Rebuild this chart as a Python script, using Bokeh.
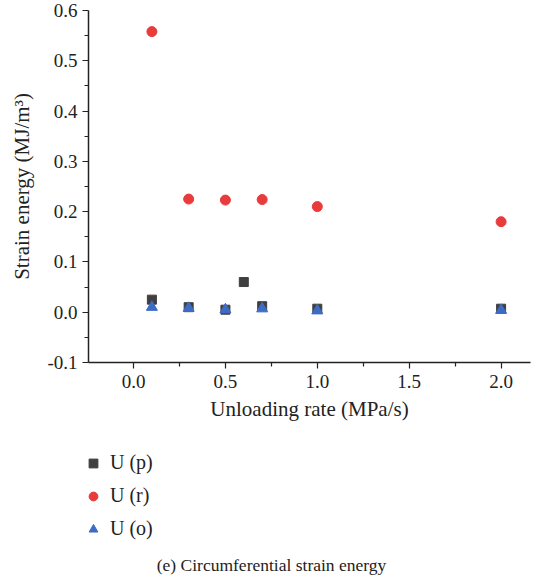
from bokeh.plotting import figure
from bokeh.layouts import column
from bokeh.models import Legend, LegendItem, Label, PrintfTickFormatter, FixedTicker
from bokeh.embed import file_html
from bokeh.resources import INLINE

# Data
rate_p = [0.1, 0.3, 0.5, 0.6, 0.7, 1.0, 2.0]
U_p = [0.025, 0.010, 0.005, 0.060, 0.012, 0.007, 0.007]
rate_r = [0.1, 0.3, 0.5, 0.7, 1.0, 2.0]
U_r = [0.558, 0.225, 0.223, 0.224, 0.210, 0.180]
rate_o = [0.1, 0.3, 0.5, 0.7, 1.0, 2.0]
U_o = [0.010, 0.008, 0.005, 0.007, 0.003, 0.004]
x_ticks = [0.0, 0.5, 1.0, 1.5, 2.0]
y_ticks = [-0.1, 0.0, 0.1, 0.2, 0.3, 0.4, 0.5, 0.6]
series_names = ["U (p)", "U (r)", "U (o)"]
caption_text = "(e) Circumferential strain energy"

FONT = "Liberation Serif"
TXT = "#222222"
C_P, C_R, C_O = "#3f3f3f", "#e83b3b", "#3d6cc4"

p = figure(width=538, height=430, output_backend="svg", toolbar_location=None,
           x_range=(-0.245, 2.16), y_range=(-0.1, 0.6),
           min_border_left=88, min_border_right=8, min_border_top=10, min_border_bottom=68)
p.outline_line_color = None
p.grid.visible = False

p.scatter(rate_p, U_p, marker="square", size=9, color=C_P)
p.scatter(rate_r, U_r, marker="circle", size=10, color=C_R)
p.scatter(rate_o, U_o, marker="triangle", size=11, color=C_O)

for ax in (p.xaxis[0], p.yaxis[0]):
    ax.axis_line_color = TXT
    ax.axis_line_width = 1.5
    ax.major_tick_line_color = TXT
    ax.minor_tick_line_color = TXT
    ax.major_tick_line_width = 1.2
    ax.minor_tick_line_width = 1.2
    ax.major_tick_out = 6
    ax.major_tick_in = 0
    ax.minor_tick_out = 4
    ax.minor_tick_in = 0
    ax.major_label_text_font = FONT
    ax.major_label_text_font_size = "19px"
    ax.major_label_text_color = TXT
    ax.axis_label_text_font = FONT
    ax.axis_label_text_font_size = "21px"
    ax.axis_label_text_font_style = "normal"
    ax.axis_label_text_color = TXT

p.xaxis.ticker = FixedTicker(ticks=x_ticks, minor_ticks=[-0.25, 0.25, 0.75, 1.25, 1.75])
p.yaxis.ticker = FixedTicker(ticks=y_ticks, minor_ticks=[-0.05, 0.05, 0.15, 0.25, 0.35, 0.45, 0.55])
p.xaxis.formatter = PrintfTickFormatter(format="%.1f")
p.yaxis.formatter = PrintfTickFormatter(format="%.1f")
p.xaxis.axis_label = "Unloading rate (MPa/s)"
p.yaxis.axis_label = "Strain energy (MJ/m³)"
p.xaxis.major_label_standoff = 6
p.yaxis.major_label_standoff = 5
p.xaxis.axis_label_standoff = 6
p.yaxis.axis_label_standoff = 10

# Legend + caption panel (its frame is aligned with the main frame by the column layout)
p2 = figure(width=538, height=153, output_backend="svg", toolbar_location=None,
            x_range=(-10, -9), y_range=(-10, -9),
            min_border_left=0, min_border_right=0, min_border_top=0, min_border_bottom=0)
p2.axis.visible = False
p2.grid.visible = False
p2.outline_line_color = None
lp = p2.scatter(rate_p, U_p, marker="square", size=9, color=C_P)
lr = p2.scatter(rate_r, U_r, marker="circle", size=10, color=C_R)
lo = p2.scatter(rate_o, U_o, marker="triangle", size=11, color=C_O)

legend = Legend(items=[LegendItem(label=series_names[0], renderers=[lp]),
                       LegendItem(label=series_names[1], renderers=[lr]),
                       LegendItem(label=series_names[2], renderers=[lo])],
                orientation="vertical", location=(-6, 41))
legend.label_text_font = FONT
legend.label_text_font_size = "20px"
legend.label_text_color = TXT
legend.border_line_color = None
legend.background_fill_alpha = 0
legend.glyph_width = 22
legend.glyph_height = 22
legend.label_height = 27
legend.spacing = 6
legend.padding = 0
legend.margin = 0
legend.label_standoff = 6
p2.add_layout(legend, "center")

cap = Label(x=183, y=19, x_units="screen", y_units="screen", text=caption_text,
            text_align="center", text_baseline="middle",
            text_font=FONT, text_font_size="17.5px", text_color=TXT)
p2.add_layout(cap)

layout = column(p, p2, spacing=0)
open("out.html", "w").write(file_html(layout, INLINE))
